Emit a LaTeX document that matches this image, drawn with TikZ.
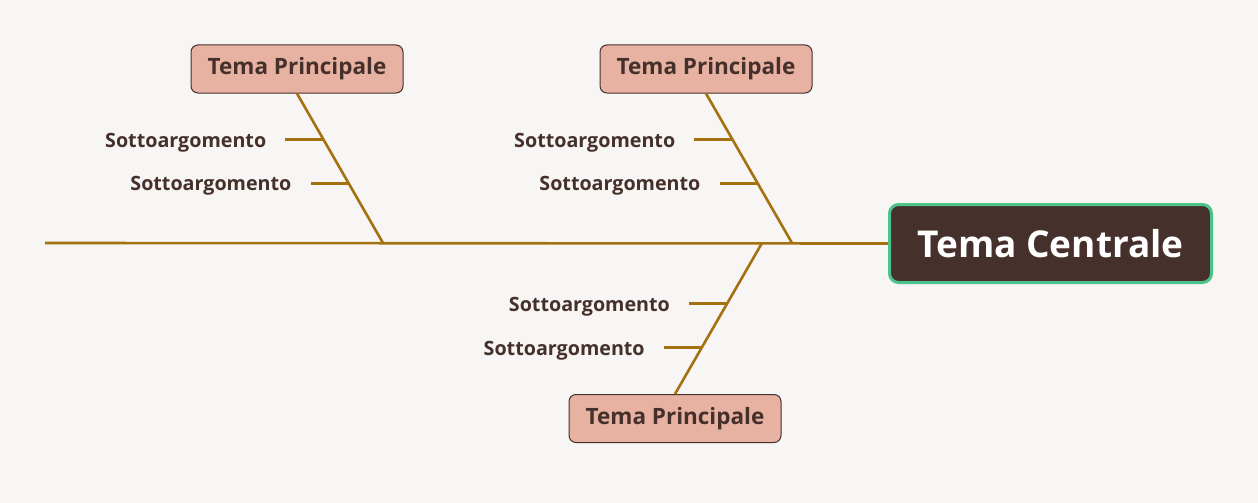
\documentclass[tikz,border=0pt]{standalone}
\usepackage{fontspec}
\usetikzlibrary{calc}
\setmainfont{Open Sans}
\definecolor{bg}{HTML}{F7F6F4}
\definecolor{dark}{HTML}{45302B}
\definecolor{topic}{HTML}{E8B2A2}
\definecolor{bone}{HTML}{A3710F}
\definecolor{green}{HTML}{4CC38A}
\begin{document}
\begin{tikzpicture}[x=1pt,y=-1pt,
  bonel/.style={draw=bone,line width=2.6pt},
  topicbox/.style={draw=dark,line width=1pt,fill=topic,rounded corners=7pt,minimum width=212pt,minimum height=48pt,font=\bfseries\fontsize{22.5}{26}\selectfont,text=dark},
  sublabel/.style={anchor=east,font=\bfseries\fontsize{19.7}{22}\selectfont,text=dark,inner sep=0pt}]
\fill[bg] (0,0) rectangle (1258,503);
\useasboundingbox (0,0) rectangle (1258,503);
\node[draw=green,line width=3pt,fill=dark,rounded corners=9pt,minimum width=322pt,minimum height=78pt,text=white,font=\bfseries\fontsize{37}{42}\selectfont] (c) at (1050.5,243.5) {Tema Centrale};
\coordinate (s0) at (45,243);
\draw[bonel] (s0) -- (c.west);
\node[topicbox] (t1) at (297,69) {\raisebox{-2pt}{Tema Principale}};
\node[topicbox] (t2) at (706,69) {\raisebox{-2pt}{Tema Principale}};
\node[topicbox] (t3) at (675,418.5) {\raisebox{-2pt}{Tema Principale}};
\coordinate (j1) at (383,243);
\coordinate (j2) at (792,243);
\coordinate (j3) at (762,243);
\draw[bonel] (t1.south) -- (j1);
\draw[bonel] (t2.south) -- (j2);
\draw[bonel] (t3.north) -- (j3);
% subtopics
\coordinate (a1) at ($(t1.south)!0.307!(j1)$);
\coordinate (a2) at ($(t1.south)!0.6!(j1)$);
\coordinate (b1) at ($(t2.south)!0.307!(j2)$);
\coordinate (b2) at ($(t2.south)!0.6!(j2)$);
\coordinate (d1) at ($(j3)!0.401!(t3.north)$);
\coordinate (d2) at ($(j3)!0.691!(t3.north)$);
\foreach \p/\n in {a1/la1,a2/la2,b1/lb1,b2/lb2,d1/ld1,d2/ld2}{
  \coordinate (\n e) at ($(\p)+(-38,0)$);
  \draw[bonel] (\p) -- (\n e);
  \node[sublabel] (\n) at ($(\n e)+(-19,3)$) {Sottoargomento};
}
\end{tikzpicture}
\end{document}
